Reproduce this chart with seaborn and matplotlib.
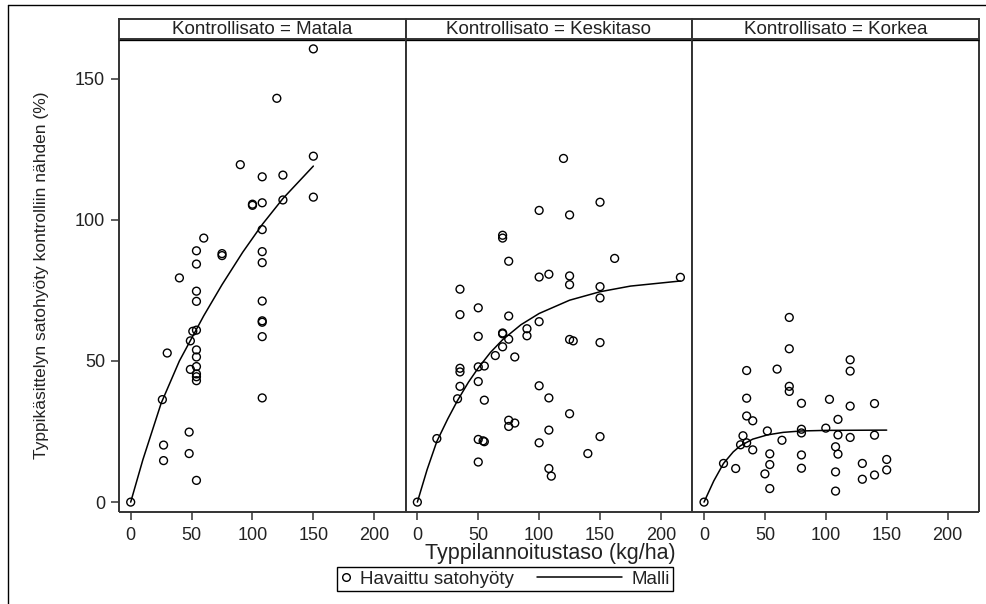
import seaborn as sns
import pandas as pd
import matplotlib.pyplot as plt
from matplotlib.lines import Line2D
from matplotlib.legend_handler import HandlerLine2D

# Kontrollisato = Matala
matala_x = [0, 26, 27, 27, 30, 40, 48, 48, 49, 49, 51, 54, 54, 54, 54, 54, 54, 54, 54, 54, 54, 54, 54,
            60, 75, 75, 90, 100, 100, 108, 108, 108, 108, 108, 108, 108, 108, 108, 108, 120, 125, 125,
            150, 150, 150]
matala_y = [0, 36.3, 20.2, 14.7, 52.8, 79.4, 24.8, 17.2, 57.1, 47, 60.5, 89, 84.3, 74.7, 71.1, 60.9, 53.9,
            51.4, 48, 45.4, 44.4, 43, 7.7, 93.5, 87.3, 88, 119.5, 105.5, 105.1, 115.2, 106, 96.5, 88.7,
            84.8, 71.2, 64.2, 63.7, 58.6, 36.9, 143, 115.8, 107, 160.5, 122.5, 108]
matala_malli_x = [0, 10, 25, 40, 50, 60, 75, 92, 108, 125, 150]
matala_malli_y = [0, 15, 35, 50, 58, 66, 77, 88.5, 98.3, 107.5, 119]

# Kontrollisato = Keskitaso
keski_x = [0, 16, 33, 35, 35, 35, 35, 35, 50, 50, 50, 50, 50, 50, 55, 55, 54, 55, 64, 70, 70, 70, 70, 70,
           75, 75, 75, 75, 75, 80, 80, 90, 90, 100, 100, 100, 100, 100, 108, 108, 108, 108, 110, 120,
           125, 125, 125, 125, 125, 128, 140, 150, 150, 150, 150, 150, 162, 216]
keski_y = [0, 22.5, 36.6, 75.4, 66.4, 47.4, 46.1, 41, 68.8, 58.7, 47.9, 42.7, 22.2, 14.2, 48.2, 36.1, 21.7,
           21.4, 51.9, 94.5, 93.5, 59.6, 59.9, 55, 85.3, 65.9, 57.7, 29, 26.8, 51.4, 28, 61.4, 58.9, 103.3,
           79.7, 63.9, 41.2, 21, 80.7, 36.9, 25.5, 11.9, 9.2, 121.7, 101.7, 80.1, 77, 57.6, 31.3, 57.1,
           17.2, 106.2, 76.3, 72.3, 56.5, 23.2, 86.3, 79.6]
keski_malli_x = [0, 8, 16, 25, 33, 42, 50, 60, 70, 85, 100, 125, 150, 175, 216]
keski_malli_y = [0, 11.5, 21.5, 29.5, 36, 42.5, 47.5, 53, 57.5, 62.8, 66.8, 71.5, 74.5, 76.5, 78.3]

# Kontrollisato = Korkea
korkea_x = [0, 16, 26, 30, 32, 35, 35, 35, 35, 40, 40, 50, 52, 54, 54, 54, 60, 64, 70, 70, 70, 70, 80, 80,
            80, 80, 80, 100, 103, 108, 108, 108, 110, 110, 110, 120, 120, 120, 120, 130, 130, 140, 140,
            140, 150, 150]
korkea_y = [0, 13.7, 11.9, 20.3, 23.5, 46.6, 36.8, 30.5, 21, 28.8, 18.5, 10, 25.2, 17.1, 13.3, 4.8, 47.1,
            21.9, 65.4, 54.3, 41, 39.2, 35, 25.8, 24.5, 16.7, 12, 26.2, 36.4, 19.6, 10.7, 3.9, 29.3, 23.8,
            17, 50.4, 46.4, 34, 22.9, 13.7, 8.1, 34.9, 23.7, 9.6, 15.1, 11.4]
korkea_malli_x = [0, 8, 16, 24, 30, 40, 52, 65, 80, 100, 150]
korkea_malli_y = [0, 7.5, 13.7, 17.8, 20, 22.3, 23.8, 24.7, 25.2, 25.4, 25.5]

panels = [
    ("Matala", matala_x, matala_y, matala_malli_x, matala_malli_y),
    ("Keskitaso", keski_x, keski_y, keski_malli_x, keski_malli_y),
    ("Korkea", korkea_x, korkea_y, korkea_malli_x, korkea_malli_y),
]
x_ticks = [0, 50, 100, 150, 200]
y_ticks = [0, 50, 100, 150]


class LongLine(HandlerLine2D):
    # legend line reaching further to the left than the handle box
    def create_artists(self, legend, orig_handle, xdescent, ydescent, width, height, fontsize, trans):
        extra = 4.0 * fontsize
        return super().create_artists(legend, orig_handle, xdescent + extra, ydescent,
                                      width + extra, height, fontsize, trans)


sns.set_style("white")
plt.rcParams['font.family'] = ['Liberation Sans', 'DejaVu Sans']

W, H = 986, 604
fig, axes = plt.subplots(1, 3, figsize=(W / 100, H / 100), dpi=100, sharey=True)
fig.subplots_adjust(left=119 / W, right=979 / W, bottom=(H - 512) / H, top=(H - 39) / H, wspace=0)

edge = '#333333'
txt = '#222222'
for i, (ax, (name, xs, ys, mx, my)) in enumerate(zip(axes, panels)):
    obs = pd.DataFrame({'x': xs, 'y': ys})
    malli = pd.DataFrame({'x': mx, 'y': my})
    sns.lineplot(data=malli, x='x', y='y', ax=ax, color='black', linewidth=1.1, estimator=None, sort=False)
    sns.scatterplot(data=obs, x='x', y='y', ax=ax, marker='o', s=32, facecolors='none',
                    edgecolor='black', linewidth=1.0, zorder=3)
    ax.set_xlim(-9.6, 225.8)
    ax.set_ylim(-3.5, 164)
    ax.set_xticks(x_ticks)
    ax.set_xlabel('')
    ax.set_ylabel('')
    for s in ax.spines.values():
        s.set_color(edge)
        s.set_linewidth(1.4)
        s.set_capstyle('butt')
    ax.spines['top'].set_color('black')
    ax.spines['top'].set_linewidth(2.4)
    ax.tick_params(axis='x', direction='out', length=6, width=1.1, color=edge, pad=5,
                   labelsize=13, labelcolor=txt, bottom=True)
    if i == 0:
        ax.set_yticks(y_ticks)
        ax.tick_params(axis='y', direction='out', length=6, width=1.1, color=edge, pad=4,
                       labelsize=13, labelcolor=txt, left=True)
    else:
        ax.tick_params(axis='y', left=False, labelleft=False)

    pos = ax.get_position()
    sax = fig.add_axes([pos.x0, pos.y1, pos.width, 20 / H])
    sax.set_xticks([])
    sax.set_yticks([])
    for s in sax.spines.values():
        s.set_color(edge)
        s.set_linewidth(1.4)
    sax.text(0.5, 0.45, f"Kontrollisato = {name}", ha='center', va='center',
             fontsize=13.5, color=txt, transform=sax.transAxes)

axes[0].set_ylabel("Typpikäsittelyn satohyöty kontrolliin nähden (%)", fontsize=12.5, color=txt)
axes[0].yaxis.set_label_coords(-0.245, 0.5)

fig.text(550 / W, 1 - 553 / H, "Typpilannoitustaso (kg/ha)", ha='center', va='center',
         fontsize=15.5, color=txt)

h_obs = Line2D([], [], linestyle='none', marker='o', markersize=5.5, markerfacecolor='none',
               markeredgecolor='black', markeredgewidth=1.0)
h_malli = Line2D([], [], color='black', linewidth=1.1)
leg = fig.legend([h_obs, h_malli], ["Havaittu satohyöty", "Malli"], loc='center',
                 bbox_to_anchor=(505 / W, 1 - 579 / H), ncol=2, frameon=True, fancybox=False,
                 edgecolor='black', framealpha=1, fontsize=13.5, handlelength=0.55, handletextpad=0.5,
                 columnspacing=5.2, borderpad=0.2, borderaxespad=0,
                 handler_map={h_malli: LongLine()})
leg.get_frame().set_linewidth(1.0)
for t in leg.get_texts():
    t.set_color(txt)

# outer frame of the original figure (left and top edges)
fig.add_artist(Line2D([8 / W, 8 / W], [0, 1 - 5 / H], transform=fig.transFigure, color='black', lw=1))
fig.add_artist(Line2D([8 / W, 1], [1 - 5 / H, 1 - 5 / H], transform=fig.transFigure, color='black', lw=1))

fig.savefig("out.png", dpi=100)
